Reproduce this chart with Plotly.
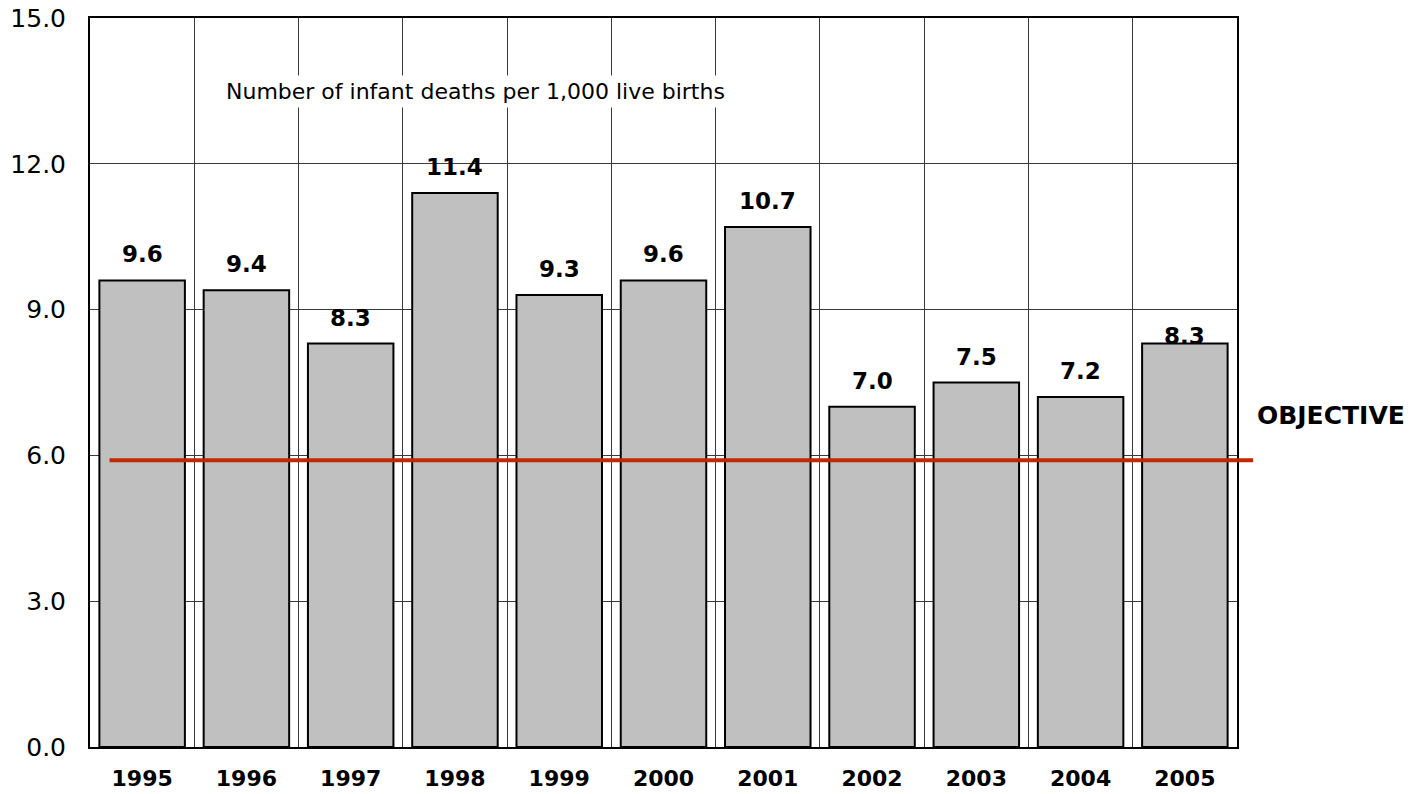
import plotly.graph_objects as go

# data
years = ['1995', '1996', '1997', '1998', '1999', '2000',
         '2001', '2002', '2003', '2004', '2005']
deaths_per_1000 = [9.6, 9.4, 8.3, 11.4, 9.3, 9.6, 10.7, 7.0, 7.5, 7.2, 8.3]
OBJECTIVE = 5.9
y_ticks = [0, 3, 6, 9, 12, 15]

FONT = 'DejaVu Sans'


def plot_data():
    fig = go.Figure()

    fig.add_trace(
        go.Bar(
            x=years,
            y=deaths_per_1000,
            width=0.82,
            marker=dict(color='#C0C0C0', line=dict(color='black', width=2)),
            hoverinfo='x+y',
        )
    )

    # value labels above each bar (x given as category index)
    for i, val in enumerate(deaths_per_1000):
        fig.add_annotation(
            x=i, y=val, text=f'{val:.1f}', showarrow=False,
            yanchor='bottom', yshift=11 if i != len(years) - 1 else -7,
            font=dict(family=FONT, size=23, color='black', weight='bold'),
        )

    # objective line runs a little past the plot area
    fig.add_shape(
        type='line', xref='paper', yref='y',
        x0=0.017, x1=1.014, y0=OBJECTIVE, y1=OBJECTIVE,
        line=dict(color='#C02800', width=4),
    )
    fig.add_annotation(
        xref='paper', yref='y', x=1.016, y=OBJECTIVE, yshift=45,
        text='OBJECTIVE', showarrow=False, xanchor='left',
        font=dict(family=FONT, size=25, color='black', weight='bold'),
    )

    fig.add_annotation(
        xref='paper', yref='paper', x=0.336, y=0.922,
        text='Number of infant deaths per 1,000 live births',
        showarrow=False, bgcolor='white', borderpad=3,
        font=dict(family=FONT, size=22, color='black'),
    )

    # page body has an 8px margin, so the figure is sized/offset for it
    fig.update_layout(
        width=1404, height=786,
        margin=dict(l=82, r=175, t=10, b=47),
        paper_bgcolor='white', plot_bgcolor='white',
        showlegend=False,
        xaxis=dict(
            type='category', tickson='boundaries', range=[-0.5, len(years) - 0.5],
            showgrid=True, gridcolor='#3a3a3a', gridwidth=1,
            showline=True, linecolor='black', linewidth=2, mirror=True,
            ticks='', ticklabelstandoff=11, tickangle=0, automargin=False,
            tickfont=dict(family=FONT, size=22, color='black', weight='bold'),
        ),
        yaxis=dict(
            range=[0, 15], tickvals=y_ticks, tickformat='.1f',
            showgrid=True, gridcolor='#3a3a3a', gridwidth=1,
            showline=True, linecolor='black', linewidth=2, mirror=True,
            zeroline=False, ticks='', ticklabelstandoff=17, automargin=False,
            ticklabeloverflow='allow',
            tickfont=dict(family=FONT, size=25, color='black'),
        ),
    )
    fig.write_html('out.html')


if __name__ == '__main__':
    plot_data()
